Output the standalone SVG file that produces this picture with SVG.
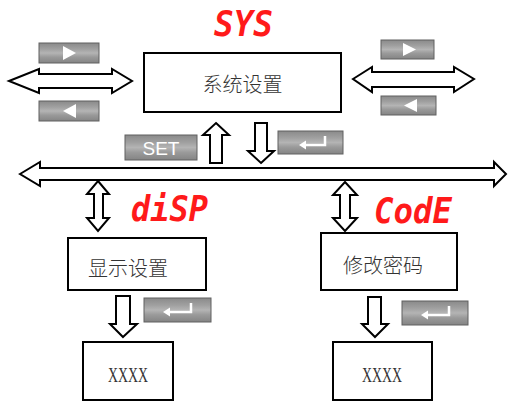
<svg xmlns="http://www.w3.org/2000/svg" width="509" height="403" viewBox="0 0 509 403">
<defs>
<linearGradient id="btn" x1="0" y1="0" x2="0" y2="1">
<stop offset="0" stop-color="#8a8a8a"/>
<stop offset="0.3" stop-color="#a0a0a0"/>
<stop offset="0.5" stop-color="#b4b4b4"/>
<stop offset="0.7" stop-color="#9a9a9a"/>
<stop offset="1" stop-color="#848484"/>
</linearGradient>
<style>
.box{fill:#fff;stroke:#000;stroke-width:2}
.arr{fill:#fff;stroke:#000;stroke-width:2;stroke-linejoin:miter}
.btn{fill:url(#btn);stroke:#606060;stroke-width:1}
.gl{fill:#fff;stroke:none}
.ent{fill:none;stroke:#fff;stroke-width:2.5}
.cn{font-family:"Noto Sans CJK SC","Noto Sans",sans-serif;font-size:20px;font-weight:300;fill:#333;text-anchor:middle}
.xx{font-family:"Liberation Serif",serif;font-size:21px;fill:#333;text-anchor:middle}
.seg{font-family:"DejaVu Sans Mono",monospace;font-weight:bold;font-style:italic;font-size:36px;fill:#ff1a1a}
.set{font-family:"Liberation Sans",sans-serif;font-size:19px;fill:#fff;text-anchor:middle}
</style>
</defs>

<g id="connectors">
<polygon class="arr" points="9,81 39,69 39,74 112,74 112,69 132,81 112,93 112,88 39,88 39,93"/>
<polygon class="arr" points="353,79 372,67 372,72 454,72 454,67 474,79 454,92 454,87 372,87 372,92"/>
<polygon class="arr" points="20,174 40,162 40,168 494,168 494,162 506,174 494,186 494,180 40,180 40,186"/>
<polygon class="arr" points="216,123 229,135 222,135 222,163 210,163 210,135 203,135"/>
<polygon class="arr" points="261,163 274,151 267,151 267,123 255,123 255,151 248,151"/>
<polygon class="arr" points="98,181 109,194 103,194 103,218 109,218 98,231 87,218 94,218 94,194 87,194"/>
<polygon class="arr" points="345,182 357,195 350,195 350,218 357,218 345,231 333,218 340,218 340,195 333,195"/>
<polygon class="arr" points="123,337 137,324 130,324 130,296 116,296 116,324 110,324"/>
<polygon class="arr" points="375,337 388,324 381,324 381,297 368,297 368,324 362,324"/>
</g>

<g id="title-sys"><text class="seg" x="214" y="36" textLength="59" lengthAdjust="spacingAndGlyphs">SYS</text></g>
<g id="title-disp"><text class="seg" x="131" y="221" textLength="77" lengthAdjust="spacingAndGlyphs">diSP</text></g>
<g id="title-code"><text class="seg" x="374" y="223" textLength="78" lengthAdjust="spacingAndGlyphs">CodE</text></g>

<g id="btn-right-1"><rect class="btn" x="39" y="43" width="60" height="20"/><polygon class="gl" points="63,46 76,53 63,60"/></g>
<g id="btn-left-1"><rect class="btn" x="39" y="101" width="60" height="20"/><polygon class="gl" points="76,104 63,111 76,118"/></g>
<g id="btn-right-2"><rect class="btn" x="381" y="40" width="53" height="19"/><polygon class="gl" points="403,43 416,49.5 403,56"/></g>
<g id="btn-left-2"><rect class="btn" x="381" y="96" width="55" height="19"/><polygon class="gl" points="417,99 404,105.5 417,112"/></g>
<g id="btn-set"><rect class="btn" x="125" y="135" width="72" height="25"/><text class="set" x="161" y="154.5">SET</text></g>
<g id="btn-enter-1"><rect class="btn" x="278" y="131" width="65" height="23"/><path class="ent" d="M325,136 V145 H304"/><polygon class="gl" points="299,145 306,140.5 306,149.5"/></g>
<g id="btn-enter-2"><rect class="btn" x="144" y="298" width="67" height="24"/><path class="ent" d="M191,303 V312 H168"/><polygon class="gl" points="163,312 170,307.5 170,316.5"/></g>
<g id="btn-enter-3"><rect class="btn" x="402" y="301" width="66" height="24"/><path class="ent" d="M449,306 V315 H426"/><polygon class="gl" points="421,315 428,310.5 428,319.5"/></g>

<g id="node-sys"><rect class="box" x="144" y="53" width="197" height="59"/><text class="cn" x="242.5" y="92">系统设置</text></g>
<g id="node-disp"><rect class="box" x="68" y="238" width="138" height="52"/><text class="cn" x="128" y="276">显示设置</text></g>
<g id="node-code"><rect class="box" x="321" y="233" width="136" height="57"/><text class="cn" x="383" y="273">修改密码</text></g>
<g id="node-xxxx-1"><rect class="box" x="83" y="342" width="90" height="58"/><text class="xx" x="128" y="382" textLength="40" lengthAdjust="spacingAndGlyphs">XXXX</text></g>
<g id="node-xxxx-2"><rect class="box" x="333" y="342" width="99" height="58"/><text class="xx" x="382" y="382" textLength="40" lengthAdjust="spacingAndGlyphs">XXXX</text></g>
</svg>
